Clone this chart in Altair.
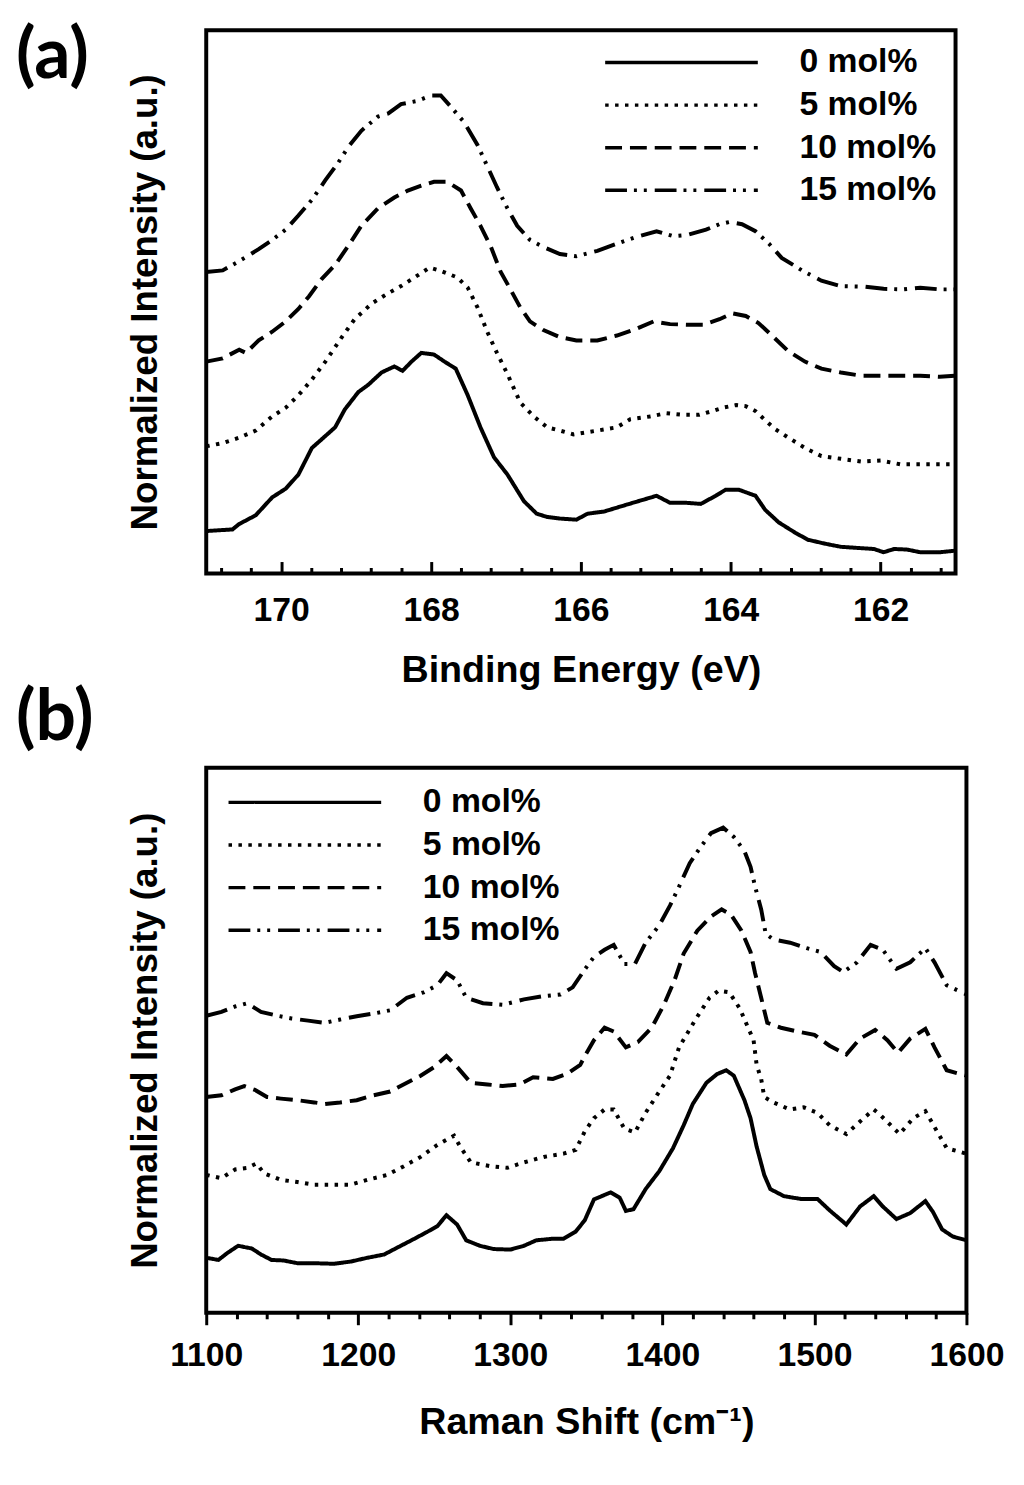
import altair as alt
import pandas as pd

FONT = "Liberation Sans"
SERIES = ["0 mol%", "5 mol%", "10 mol%", "15 mol%"]
DASHES = [[1, 0], [3.5, 6.5], [17, 8], [22, 7, 3, 7, 3, 8]]

# (a) S 2p XPS: binding energy (eV) vs normalized intensity (arb. units, 0-100 frame)
be_0 = [171.0, 170.65, 170.56, 170.34, 170.12, 169.94, 169.77, 169.59, 169.41, 169.28,
        169.15, 168.97, 168.84, 168.66, 168.49, 168.38, 168.26, 168.13, 167.96, 167.82,
        167.67, 167.51, 167.34, 167.16, 166.98, 166.76, 166.59, 166.45, 166.28, 166.06,
        165.91, 165.69, 165.38, 165.16, 164.99, 164.81, 164.59, 164.40, 164.20, 164.07,
        163.89, 163.67, 163.54, 163.36, 163.14, 162.97, 162.75, 162.53, 162.31, 162.09,
        161.96, 161.82, 161.65, 161.47, 161.21, 161.0]
xps_0 = [7.8, 8.1, 9.1, 10.7, 14.0, 15.6, 18.2, 23.1, 25.3, 26.9,
         30.2, 33.4, 34.7, 37.0, 38.1, 37.3, 39.0, 40.6, 40.3, 39.0,
         37.7, 32.8, 26.9, 21.4, 18.2, 13.3, 11.0, 10.4, 10.1, 9.9,
         11.0, 11.4, 12.7, 13.6, 14.3, 13.0, 13.0, 12.8, 14.3, 15.4,
         15.4, 14.3, 11.7, 9.4, 7.5, 6.2, 5.5, 4.9, 4.7, 4.5,
         3.9, 4.5, 4.4, 3.9, 3.9, 4.2]

be_5 = [171.0, 170.78, 170.56, 170.34, 170.12, 169.94, 169.77, 169.59, 169.41, 169.19,
        169.02, 168.79, 168.57, 168.40, 168.22, 168.02, 167.87, 167.65, 167.51, 167.38,
        167.25, 167.12, 166.98, 166.81, 166.63, 166.45, 166.28, 166.10, 165.78, 165.52,
        165.34, 165.08, 164.86, 164.64, 164.42, 164.24, 164.11, 163.93, 163.80, 163.67,
        163.54, 163.41, 163.23, 163.01, 162.79, 162.53, 162.26, 162.00, 161.74, 161.47,
        161.21, 161.0]
xps_5 = [23.4, 24.0, 25.0, 26.3, 28.9, 30.5, 32.8, 35.7, 39.0, 43.5,
         46.8, 49.7, 51.6, 52.9, 54.5, 56.3, 55.7, 54.5, 52.6, 49.0,
         44.5, 40.6, 36.7, 31.5, 28.9, 26.9, 26.3, 25.6, 26.3, 26.9,
         28.4, 28.9, 29.5, 29.2, 29.2, 29.9, 30.5, 31.0, 30.8, 29.9,
         28.2, 26.6, 25.0, 23.1, 21.6, 21.1, 20.6, 20.8, 20.1, 20.1,
         20.1, 20.1]

be_10 = [171.0, 170.78, 170.56, 170.47, 170.30, 170.12, 169.94, 169.77, 169.63, 169.46,
         169.28, 169.10, 168.93, 168.71, 168.49, 168.31, 168.13, 167.96, 167.78, 167.60,
         167.47, 167.34, 167.20, 167.07, 166.94, 166.81, 166.68, 166.50, 166.28, 166.06,
         165.78, 165.52, 165.25, 165.03, 164.81, 164.59, 164.37, 164.15, 163.98, 163.80,
         163.63, 163.45, 163.23, 163.01, 162.79, 162.53, 162.26, 162.00, 161.74, 161.47,
         161.21, 161.0]
xps_10 = [39.0, 39.6, 41.2, 40.6, 42.9, 44.5, 46.4, 48.7, 51.0, 54.2,
          56.8, 60.4, 64.0, 67.2, 69.2, 70.5, 71.4, 72.1, 72.1, 70.5,
          67.2, 64.0, 60.1, 55.5, 52.3, 49.0, 46.4, 44.8, 43.5, 42.9,
          42.9, 43.8, 45.1, 46.4, 45.9, 45.8, 45.8, 46.8, 47.9, 47.4,
          46.1, 43.8, 40.9, 39.0, 37.7, 37.0, 36.4, 36.4, 36.4, 36.4,
          36.2, 36.4]

be_15 = [171.0, 170.78, 170.56, 170.30, 170.12, 169.94, 169.77, 169.59, 169.41, 169.24,
         169.10, 168.93, 168.71, 168.57, 168.40, 168.18, 168.00, 167.87, 167.74, 167.56,
         167.38, 167.25, 167.12, 166.98, 166.85, 166.68, 166.50, 166.28, 166.06, 165.78,
         165.52, 165.25, 164.99, 164.77, 164.59, 164.33, 164.15, 164.02, 163.85, 163.67,
         163.49, 163.32, 163.05, 162.79, 162.53, 162.22, 161.96, 161.69, 161.47, 161.21,
         161.0]
xps_15 = [55.5, 55.8, 57.5, 59.7, 61.4, 63.3, 65.9, 68.8, 72.4, 75.6,
          78.6, 81.5, 84.1, 84.7, 86.4, 87.0, 88.0, 88.0, 86.0, 83.1,
          78.9, 75.0, 71.1, 67.2, 64.0, 61.4, 60.1, 58.8, 58.4, 59.4,
          60.7, 62.0, 63.0, 62.1, 62.3, 63.3, 64.3, 64.7, 64.3, 63.0,
          60.7, 58.1, 55.8, 53.9, 52.9, 52.8, 52.4, 52.3, 52.6, 52.3,
          52.3]

# (b) Raman: shift (cm-1) vs normalized intensity (arb. units, 0-100 frame)
rs_0 = [1100, 1108, 1114, 1121, 1130, 1136, 1143, 1151, 1160, 1171,
        1184, 1195, 1206, 1217, 1228, 1237, 1245, 1252, 1258, 1265,
        1271, 1280, 1289, 1300, 1309, 1317, 1328, 1335, 1343, 1349,
        1355, 1366, 1372, 1376, 1381, 1389, 1398, 1407, 1414, 1420,
        1429, 1436, 1442, 1447, 1454, 1458, 1462, 1467, 1471, 1480,
        1491, 1502, 1510, 1521, 1530, 1539, 1545, 1554, 1563, 1573,
        1578, 1584, 1591, 1600]
ram_0 = [10.1, 9.7, 11.0, 12.3, 11.8, 10.7, 9.7, 9.6, 9.1, 9.1,
         9.0, 9.4, 10.1, 10.7, 12.3, 13.6, 14.8, 15.9, 17.9, 16.2,
         13.3, 12.3, 11.7, 11.6, 12.3, 13.3, 13.6, 13.6, 14.9, 17.0,
         20.8, 22.1, 21.1, 18.7, 19.0, 22.7, 26.0, 30.2, 34.4, 38.3,
         42.2, 43.8, 44.5, 43.5, 39.0, 35.7, 30.5, 25.3, 22.7, 21.4,
         20.9, 20.9, 18.8, 16.2, 19.5, 21.4, 19.5, 17.2, 18.3, 20.5,
         18.5, 15.3, 14.0, 13.3]

rs_5 = [1100, 1110, 1119, 1127, 1133, 1138, 1149, 1160, 1171, 1184,
        1195, 1206, 1219, 1230, 1241, 1252, 1263, 1267, 1274, 1287,
        1298, 1309, 1322, 1335, 1343, 1349, 1355, 1362, 1368, 1375,
        1382, 1389, 1398, 1405, 1411, 1422, 1431, 1437, 1444, 1451,
        1455, 1460, 1462, 1465, 1467, 1473, 1484, 1493, 1502, 1510,
        1521, 1530, 1539, 1543, 1556, 1565, 1573, 1579, 1587, 1600]
ram_5 = [25.3, 24.7, 26.3, 26.6, 27.4, 25.6, 24.4, 24.0, 23.5, 23.5,
         23.5, 24.4, 25.3, 26.9, 28.6, 30.8, 32.5, 30.5, 27.6, 26.9,
         26.6, 27.6, 28.6, 29.2, 29.9, 33.3, 35.7, 37.3, 37.3, 33.8,
         33.1, 36.7, 40.6, 43.5, 48.7, 53.9, 57.8, 59.1, 58.8, 55.8,
         53.2, 50.0, 45.5, 42.9, 39.6, 38.6, 37.3, 37.7, 36.7, 34.4,
         32.8, 35.1, 37.3, 36.4, 32.8, 35.7, 37.0, 34.1, 30.2, 29.2]

rs_10 = [1100, 1110, 1119, 1125, 1132, 1140, 1149, 1160, 1171, 1178,
         1188, 1199, 1210, 1221, 1232, 1241, 1250, 1258, 1265, 1274,
         1285, 1295, 1306, 1315, 1328, 1337, 1346, 1349, 1355, 1362,
         1368, 1376, 1384, 1393, 1401, 1408, 1414, 1423, 1432, 1439,
         1445, 1452, 1458, 1461, 1465, 1469, 1478, 1489, 1500, 1510,
         1521, 1530, 1540, 1548, 1555, 1563, 1573, 1579, 1587, 1600]
ram_10 = [39.6, 39.9, 41.0, 41.6, 40.9, 39.6, 39.3, 39.0, 38.6, 38.3,
          38.6, 39.0, 39.9, 40.6, 42.2, 43.5, 45.1, 47.1, 45.1, 42.2,
          41.9, 41.6, 41.9, 43.2, 42.9, 43.8, 45.5, 47.1, 50.0, 52.3,
          51.6, 48.7, 49.7, 52.3, 56.5, 61.0, 65.9, 70.1, 72.7, 74.0,
          73.1, 70.1, 66.2, 62.3, 57.8, 53.2, 52.3, 51.6, 51.0, 49.0,
          47.4, 50.3, 51.9, 50.0, 47.7, 50.3, 52.1, 48.7, 44.5, 43.5]

rs_15 = [1100, 1110, 1119, 1127, 1136, 1147, 1156, 1167, 1178, 1188,
         1199, 1210, 1221, 1232, 1243, 1252, 1258, 1265, 1271, 1282,
         1295, 1309, 1322, 1333, 1341, 1349, 1355, 1362, 1368, 1375,
         1382, 1389, 1398, 1405, 1411, 1418, 1425, 1432, 1440, 1447,
         1454, 1458, 1461, 1465, 1468, 1473, 1484, 1495, 1504, 1513,
         1519, 1528, 1537, 1545, 1554, 1563, 1573, 1579, 1587, 1600]
ram_15 = [54.5, 55.2, 56.2, 56.8, 55.2, 54.5, 54.0, 53.6, 53.2, 53.8,
          54.4, 54.9, 55.5, 57.8, 58.8, 60.1, 62.3, 61.0, 57.8, 56.8,
          56.5, 57.5, 58.1, 58.4, 59.7, 63.0, 65.3, 66.6, 67.5, 64.0,
          64.0, 67.9, 71.1, 74.7, 78.2, 82.5, 85.4, 88.0, 89.0, 87.3,
          84.7, 81.8, 78.2, 74.0, 69.5, 68.5, 67.9, 66.9, 66.2, 63.6,
          62.5, 64.3, 67.5, 66.6, 63.1, 64.3, 66.9, 64.3, 60.1, 58.4]

# tick positions: majors carry labels, minors are short marks only
XPS_TICKS = [round(170.8 - 0.4 * i, 1) for i in range(25)]
RAMAN_TICKS = list(range(1100, 1601, 20))


def to_frame(xs_list, ys_list):
    parts = [pd.DataFrame({"x": xs, "y": ys, "series": name})
             for name, xs, ys in zip(SERIES, xs_list, ys_list)]
    return pd.concat(parts, ignore_index=True)


df_a = to_frame([be_0, be_5, be_10, be_15], [xps_0, xps_5, xps_10, xps_15])
df_b = to_frame([rs_0, rs_5, rs_10, rs_15], [ram_0, ram_5, ram_10, ram_15])

dash_scale = alt.Scale(domain=SERIES, range=DASHES)

XPS_MAJOR = "abs(datum.value - 2 * round(datum.value / 2)) < 0.01"
RAMAN_MAJOR = "datum.value % 100 === 0"

axis_text = dict(labelFont=FONT, labelFontSize=34, labelFontWeight="bold",
                 labelColor="black", labelFlush=False, labelOverlap=False,
                 titleFont=FONT, titleFontSize=38, titleFontWeight="bold",
                 titleColor="black", domain=False, grid=False, format="d",
                 tickWidth=3, tickColor="black", tickCount=100)


def legend(x, y):
    return alt.Legend(
        title=None, orient="none", legendX=x, legendY=y, padding=0,
        symbolType="M-7.7,0H7.7", symbolSize=400, symbolStrokeWidth=3.5,
        symbolStrokeColor="black", symbolOffset=62,
        labelOffset=102, labelFont=FONT, labelFontSize=34, labelFontWeight="bold",
        labelColor="black", labelLimit=300, rowPadding=9,
    )


def y_axis_enc():
    return alt.Y(
        "y:Q", scale=alt.Scale(domain=[0, 100], nice=False, zero=False),
        axis=alt.Axis(title="Normalized Intensity (a.u.)", labels=False, ticks=False,
                      domain=False, grid=False, titleFont=FONT, titleFontSize=37,
                      titleFontWeight="bold", titleColor="black", titlePadding=42),
    )


def panel_title(text, dy):
    return alt.TitleParams(text, anchor="start", frame="group", orient="top",
                           font="Lato", fontSize=72, fontWeight="bold", color="black",
                           dx=-192, dy=dy, offset=0, baseline="bottom")


# panel (a): ticks point into the frame - the axis sits 12px up, minor ticks
# only draw their lower half
panel_a = alt.Chart(df_a).mark_line(color="black", strokeWidth=4, clip=True).encode(
    x=alt.X("x:Q", scale=alt.Scale(domain=[161, 171], reverse=True, nice=False, zero=False),
            axis=alt.Axis(values=XPS_TICKS, offset=-12, tickSize=12, tickMinStep=0.4,
                          tickDash={"condition": {"test": XPS_MAJOR, "value": [12, 0]},
                                    "value": [0, 6, 6, 0]},
                          labelExpr=f"{XPS_MAJOR} ? datum.label : ''",
                          labelPadding=20, title="Binding Energy (eV)", titlePadding=25,
                          **axis_text)),
    y=y_axis_enc(),
    strokeDash=alt.StrokeDash("series:N", scale=dash_scale, legend=legend(400.5, 15.5)),
).properties(width=756, height=548, title=panel_title("(a)", 135))

# panel (b): ticks point outwards
panel_b = alt.Chart(df_b).mark_line(color="black", strokeWidth=4, clip=True).encode(
    x=alt.X("x:Q", scale=alt.Scale(domain=[1100, 1600], nice=False, zero=False),
            axis=alt.Axis(values=RAMAN_TICKS, tickMinStep=20,
                          labelExpr=f"{RAMAN_MAJOR} ? datum.label : ''",
                          tickSize={"condition": {"test": RAMAN_MAJOR, "value": 12},
                                    "value": 6},
                          labelPadding=14, title="Raman Shift (cm\u207b\u00b9)",
                          titlePadding=32, **axis_text)),
    y=y_axis_enc(),
    strokeDash=alt.StrokeDash("series:N", scale=dash_scale, legend=legend(20.5, 18)),
).properties(width=767, height=550, title=panel_title("(b)", 59))

chart = alt.vconcat(panel_a, panel_b, spacing=196, bounds="flush").resolve_legend(
    strokeDash="independent"
).properties(
    padding={"left": 6, "top": 4, "right": 10, "bottom": 10}, background="white"
).configure_view(stroke="black", strokeWidth=4)

chart.save("out.html", embed_options={"renderer": "svg", "actions": False})
